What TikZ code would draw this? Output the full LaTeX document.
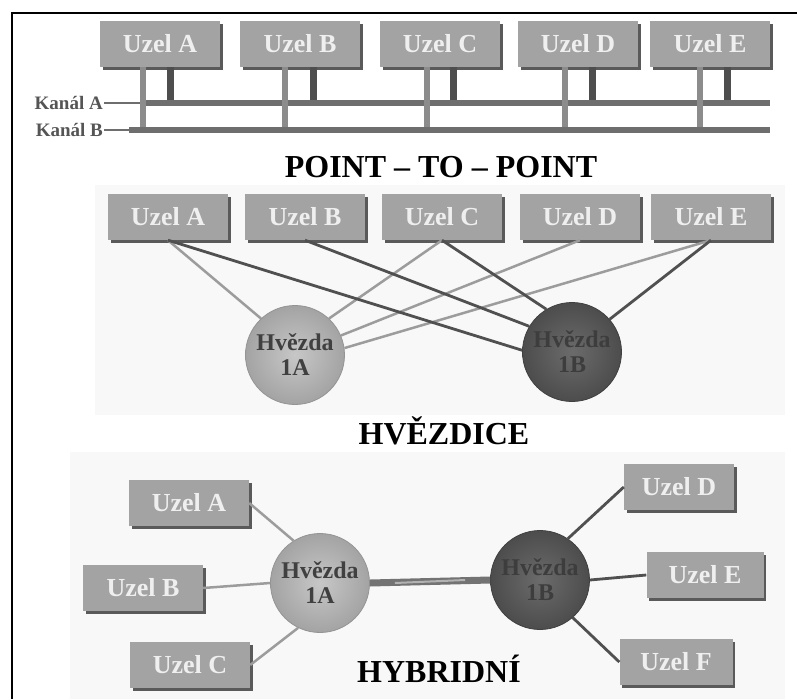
\documentclass[tikz,border=0pt]{standalone}
\usepackage{fontspec}
\setmainfont{Liberation Serif}
\usetikzlibrary{shadows}
\definecolor{boxfill}{HTML}{A3A3A3}
\definecolor{boxtxt}{HTML}{EFEFEF}
\definecolor{boxedge}{HTML}{5A5A5A}
\definecolor{lightline}{HTML}{9C9C9C}
\definecolor{darkline}{HTML}{505050}
\definecolor{busc}{HTML}{6E6E6E}
\definecolor{longc}{HTML}{8C8C8C}
\definecolor{shortc}{HTML}{4E4E4E}
\definecolor{kanalc}{HTML}{555555}
\definecolor{bgc}{HTML}{F8F8F8}
\tikzset{
  uzel/.style={rectangle, fill=boxfill, minimum width=120pt, minimum height=46pt,
    inner sep=0pt, text=boxtxt, font=\fontsize{26}{28}\selectfont\bfseries,
    drop shadow={shadow xshift=2.5pt, shadow yshift=-2.5pt, fill=boxedge, opacity=1}},
  hvA/.style={circle, minimum size=99pt, inner sep=0pt, inner color=black!22,
    outer color=black!36, draw=black!42, line width=0.8pt, align=center,
    text=black!75, font=\fontsize{24}{25}\selectfont\bfseries},
  hvB/.style={circle, minimum size=99pt, inner sep=0pt, inner color=black!58,
    outer color=black!70, draw=black!75, line width=0.8pt, align=center,
    text=black!76, font=\fontsize{24}{25}\selectfont\bfseries},
  lightedge/.style={draw=lightline, line width=2.5pt},
  darkedge/.style={draw=darkline, line width=2.8pt},
  bus/.style={draw=busc, line width=6.5pt},
  longstem/.style={draw=longc, line width=6pt},
  shortstem/.style={draw=shortc, line width=7pt},
  kanal/.style={inner sep=1pt, text=kanalc, font=\fontsize{19}{20}\selectfont\bfseries},
  title/.style={inner sep=0pt, font=\fontsize{32}{36}\selectfont\bfseries},
  link/.style={draw=black!55, line width=7pt},
}
\begin{document}
\begin{tikzpicture}[x=1pt,y=-1pt]
\useasboundingbox (0,0) rectangle (797,699);
\fill[white] (0,0) rectangle (797,699);
% light scanned backgrounds
\fill[bgc] (95,185) rectangle (785,415);
\fill[bgc] (70,452) rectangle (785,699);
% frame
\draw[line width=2pt] (797,13) -- (12,13) -- (12,699);

% ================= POINT - TO - POINT =================
\node[uzel] (pA) at (160,44) {Uzel A};
\node[uzel] (pB) at (300,44) {Uzel B};
\node[uzel] (pC) at (440,44) {Uzel C};
\node[uzel] (pD) at (578,44) {Uzel D};
\node[uzel] (pE) at (710,44) {Uzel E};

\node[kanal, anchor=east] (kA) at (104,103) {Kanál A};
\node[kanal, anchor=east] (kB) at (104,130) {Kanál B};
\coordinate (kAend) at (770,103);
\coordinate (kBend) at (770,130);

% feet of the stems
\coordinate (fA1) at (143,130); \coordinate (fA2) at (170,103);
\coordinate (fB1) at (285,130); \coordinate (fB2) at (313,103);
\coordinate (fC1) at (427,130); \coordinate (fC2) at (453,103);
\coordinate (fD1) at (565,130); \coordinate (fD2) at (592,103);
\coordinate (fE1) at (700,130); \coordinate (fE2) at (727,103);

\draw[shortstem] (pA.south -| fA2) -- (fA2);
\draw[shortstem] (pB.south -| fB2) -- (fB2);
\draw[shortstem] (pC.south -| fC2) -- (fC2);
\draw[shortstem] (pD.south -| fD2) -- (fD2);
\draw[shortstem] (pE.south -| fE2) -- (fE2);
\draw[draw=busc, line width=1.5pt] (kA.east) -- (kAend);
\draw[bus] (kA.east) ++(40,0) -- (kAend);
\draw[longstem] (pA.south -| fA1) -- (fA1);
\draw[longstem] (pB.south -| fB1) -- (fB1);
\draw[longstem] (pC.south -| fC1) -- (fC1);
\draw[longstem] (pD.south -| fD1) -- (fD1);
\draw[longstem] (pE.south -| fE1) -- (fE1);
\draw[draw=busc, line width=1.5pt] (kB.east) -- (kBend);
\draw[bus] (kB.east) ++(25,0) -- (kBend);

\node[title, anchor=base] (t1) at (441,177) {POINT – TO – POINT};

% ================= HVĚZDICE =================
\node[uzel] (sA) at (168,217) {Uzel A};
\node[uzel] (sB) at (305,217) {Uzel B};
\node[uzel] (sC) at (442,217) {Uzel C};
\node[uzel] (sD) at (580,217) {Uzel D};
\node[uzel] (sE) at (711,217) {Uzel E};
\node[hvA] (s1A) at (295,355) {Hvězda\\1A};
\node[hvB] (s1B) at (572,352) {Hvězda\\1B};

\draw[lightedge] (sA.south) -- (s1A.133);
\draw[lightedge] (sC.south) -- (s1A.47);
\draw[lightedge] (sD.south) -- (s1A.23);
\draw[lightedge] (sE.south) -- (s1A.8);
\draw[darkedge] (sA.south) -- (s1B.178);
\draw[darkedge] (sB.south) -- (s1B.149);
\draw[darkedge] (sC.south) -- (s1B.121);
\draw[darkedge] (sE.south) -- (s1B.41);

\node[title, anchor=base] (t2) at (444,444) {HVĚZDICE};

% ================= HYBRIDNÍ =================
\node[uzel] (hA) at (189,503) {Uzel A};
\node[uzel] (hB) at (143,588) {Uzel B};
\node[uzel] (hC) at (190,665) {Uzel C};
\node[uzel, minimum width=110pt] (hD) at (679,487) {Uzel D};
\node[uzel, minimum width=117pt] (hE) at (705,575) {Uzel E};
\node[uzel, minimum width=113pt] (hF) at (676,662) {Uzel F};
\node[hvA] (h1A) at (320,583) {Hvězda\\1A};
\node[hvB] (h1B) at (540,580) {Hvězda\\1B};

\draw[lightedge] (hA.east) -- (h1A.122);
\draw[lightedge] (hB.east) -- (h1A.west);
\draw[lightedge] (hC.east) -- (h1A.244);
\draw[link] (h1A.east) -- (h1B.west);
\draw[draw=black!30, line width=2pt] ([xshift=25pt]h1A.east) -- ([xshift=-25pt]h1B.west);
\draw[darkedge] (h1B.56) -- (hD.west);
\draw[darkedge] (h1B.east) -- (hE.west);
\draw[darkedge] (h1B.-49) -- (hF.west);

\node[title, anchor=base] (t3) at (439,682) {HYBRIDNÍ};
\end{tikzpicture}
\end{document}
